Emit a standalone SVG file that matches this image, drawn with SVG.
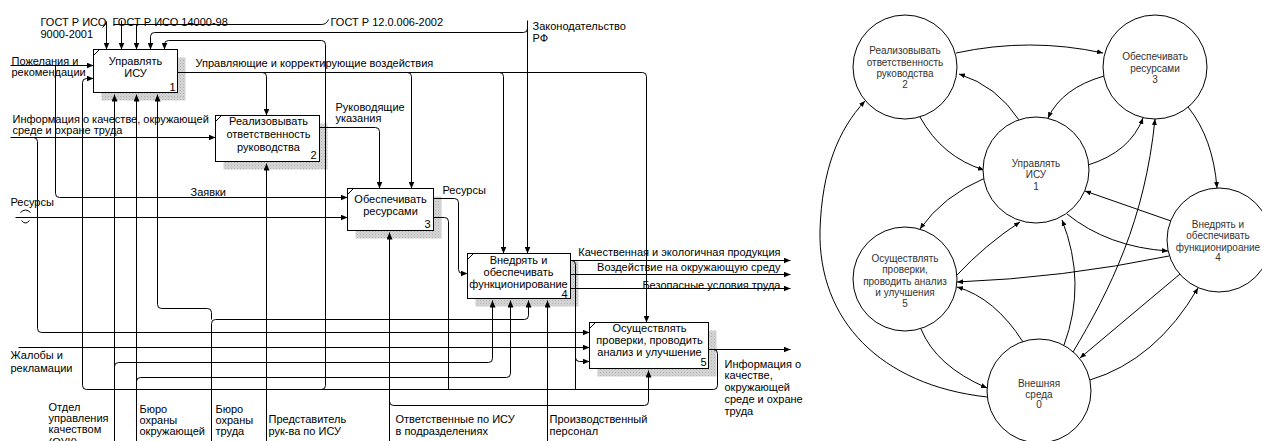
<svg xmlns="http://www.w3.org/2000/svg" width="1262" height="441" viewBox="0 0 1262 441">
<style>
.c{fill:none;stroke:#000;stroke-width:1}
.a{marker-end:url(#ah)}
.box{fill:#fff;stroke:#000;stroke-width:1}
.sh{fill:url(#hatch)}
.t{font-family:"Liberation Sans",Arial,sans-serif;font-size:11px;fill:#000}
.m{text-anchor:middle}
.e{text-anchor:end}
.n{fill:#fff;stroke:#000;stroke-width:1}
.r{fill:none;stroke:#000;stroke-width:1;marker-end:url(#rh)}
.rt{font-family:"Liberation Sans",Arial,sans-serif;font-size:10px;fill:#333;text-anchor:middle}
</style>
<defs>
<pattern id="hatch" width="3" height="3" patternUnits="userSpaceOnUse"><rect width="3" height="3" fill="#fff"/><path d="M0,3 L3,0 M0,0 L3,3" stroke="#8a8a8a" stroke-width="0.7"/></pattern>
<marker id="ah" markerUnits="userSpaceOnUse" markerWidth="7" markerHeight="6" refX="7" refY="3" orient="auto"><path d="M0,0 L7,3 L0,6 z" fill="#000"/></marker>
<marker id="rh" markerUnits="userSpaceOnUse" markerWidth="6" markerHeight="5" refX="6" refY="2.5" orient="auto"><path d="M0,0 L6,2.5 L0,5 z" fill="#000"/></marker>
</defs>
<rect width="1262" height="441" fill="#fff"/>
<g transform="translate(0.5,0.5)">
<g id="box1"><rect class="sh" x="101" y="57" width="84" height="43"/><rect class="box" x="93" y="49" width="84" height="43"/><path class="c" d="M93,55 L99,49"/>
<text class="t m" x="135" y="64">Управлять</text><text class="t m" x="135" y="76">ИСУ</text><text class="t e" x="175" y="90">1</text></g>
<g id="box2"><rect class="sh" x="223" y="123" width="104" height="46"/><rect class="box" x="215" y="115" width="104" height="46"/><path class="c" d="M215,121 L221,115"/>
<text class="t m" x="268" y="124">Реализовывать</text><text class="t m" x="268" y="137">ответственность</text><text class="t m" x="268" y="150">руководства</text><text class="t e" x="316" y="158">2</text></g>
<g id="box3"><rect class="sh" x="355" y="196" width="86" height="42"/><rect class="box" x="347" y="188" width="86" height="42"/><path class="c" d="M347,194 L353,188"/>
<text class="t m" x="390" y="202">Обеспечивать</text><text class="t m" x="390" y="214">ресурсами</text><text class="t e" x="430" y="227">3</text></g>
<g id="box4"><rect class="sh" x="475" y="261" width="103" height="45"/><rect class="box" x="467" y="253" width="103" height="45"/><path class="c" d="M467,259 L473,253"/>
<text class="t m" x="518" y="263">Внедрять и</text><text class="t m" x="518" y="275">обеспечивать</text><text class="t m" x="518" y="287">функционирование</text><text class="t e" x="567" y="297">4</text></g>
<g id="box5"><rect class="sh" x="597" y="330" width="119" height="46"/><rect class="box" x="589" y="322" width="119" height="46"/><path class="c" d="M589,328 L595,322"/>
<text class="t m" x="649" y="331">Осуществлять</text><text class="t m" x="649" y="343">проверки, проводить</text><text class="t m" x="649" y="355">анализ и улучшение</text><text class="t e" x="706" y="365">5</text></g>
<g id="connectors">
<path class="c a" d="M10,65 H93"/>
<path class="c a" d="M55,65 V193 Q55,197 59,197 H347"/>
<path class="c a" d="M10,137 H215"/>
<path class="c a" d="M33,137 Q37,137 37,141 V328 Q37,332 41,332 H589"/>
<path class="c a" d="M15,217 H347"/>
<path class="c" d="M20,212 Q25,207 30,212 M21,220 Q25,225 29,220"/>
<path class="c a" d="M18,347 H589"/>
<path class="c a" d="M106,21 V49"/>
<path class="c" d="M102,27 Q105,25 106,21"/>
<path class="c a" d="M121,20 V49"/>
<path class="c" d="M328,19 Q326,24 321,24 H113"/>
<path class="c a" d="M136,24 V49"/>
<path class="c a" d="M527,20 V253"/>
<path class="c a" d="M527,28 Q527,32 523,32 H154 Q150,32 150,36 V49"/>
<path class="c a" d="M708,349 H790"/>
<path class="c a" d="M713,349 Q717,349 717,353 V385 Q717,389 713,389 H86 Q82,389 82,385 V82 Q82,78 86,78 H93"/>
<path class="c a" d="M321,389 Q325,389 325,385 V44 Q325,40 321,40 H168 Q164,40 164,44 V49"/>
<path class="c" d="M433,217 H444 Q448,217 448,221 V389"/>
<path class="c" d="M571,260 Q575,260 575,264 V389"/>
<path class="c a" d="M575,357 Q575,361 579,361 H589"/>
<path class="c a" d="M177,72 H642 Q646,72 646,76 V322"/>
<path class="c a" d="M262,72 Q266,72 266,76 V115"/>
<path class="c a" d="M407,72 Q411,72 411,76 V188"/>
<path class="c a" d="M499,72 Q503,72 503,76 V253"/>
<path class="c a" d="M319,127 H375 Q379,127 379,131 V188"/>
<path class="c a" d="M433,198 H454 Q458,198 458,202 V269 Q458,273 462,273 H467"/>
<path class="c a" d="M570,260 H790"/>
<path class="c a" d="M570,274 H790"/>
<path class="c a" d="M570,288 H790"/>
<path class="c a" d="M114,441 V94"/>
<path class="c a" d="M114,366 Q114,362 118,362 H488 Q492,362 492,358 V300"/>
<path class="c a" d="M136,441 V94"/>
<path class="c a" d="M136,381 Q136,377 140,377 H506 Q510,377 510,373 V300"/>
<path class="c a" d="M211,441 V323 Q211,319 215,319 H524 Q528,319 528,315 V300"/>
<path class="c a" d="M211,319 V312 Q211,308 207,308 H161 Q157,308 157,304 V94"/>
<path class="c a" d="M266,441 V163"/>
<path class="c a" d="M389,441 V232"/>
<path class="c a" d="M389,401 Q389,405 393,405 H644 Q648,405 648,401 V370"/>
<path class="c a" d="M547,441 V300"/>
</g>
<g id="labels">
<text class="t" x="40" y="25">ГОСТ Р ИСО</text><text class="t" x="40" y="37">9000-2001</text>
<text class="t" x="112" y="25">ГОСТ Р ИСО 14000-98</text>
<text class="t" x="330" y="25">ГОСТ Р 12.0.006-2002</text>
<text class="t" x="532" y="29">Законодательство</text><text class="t" x="532" y="41">РФ</text>
<text class="t" x="11" y="64">Пожелания и</text><text class="t" x="11" y="75">рекомендации</text>
<text class="t" x="195" y="66">Управляющие и корректирующие воздействия</text>
<text class="t" x="12" y="122">Информация о качестве, окружающей</text><text class="t" x="12" y="133">среде и охране труда</text>
<text class="t" x="335" y="110">Руководящие</text><text class="t" x="335" y="121">указания</text>
<text class="t" x="190" y="195">Заявки</text>
<text class="t" x="10" y="205">Ресурсы</text>
<text class="t" x="442" y="193">Ресурсы</text>
<text class="t e" x="780" y="255">Качественная и экологичная продукция</text>
<text class="t e" x="780" y="270">Воздействие на окружающую среду</text>
<text class="t e" x="780" y="288">Безопасные условия труда</text>
<text class="t" x="724" y="367">Информация о</text><text class="t" x="724" y="378">качестве,</text><text class="t" x="724" y="390">окружающей</text><text class="t" x="724" y="402">среде и охране</text><text class="t" x="724" y="414">труда</text>
<text class="t" x="10" y="358">Жалобы и</text><text class="t" x="10" y="371">рекламации</text>
<text class="t" x="48" y="410">Отдел</text><text class="t" x="48" y="421">управления</text><text class="t" x="48" y="432">качеством</text><text class="t" x="48" y="445">(ОУК)</text>
<text class="t" x="139" y="412">Бюро</text><text class="t" x="139" y="423">охраны</text><text class="t" x="139" y="434">окружающей</text>
<text class="t" x="215" y="412">Бюро</text><text class="t" x="215" y="423">охраны</text><text class="t" x="215" y="434">труда</text>
<text class="t" x="268" y="422">Представитель</text><text class="t" x="268" y="434">рук-ва по ИСУ</text>
<text class="t" x="395" y="422">Ответственные по ИСУ</text><text class="t" x="395" y="434">в подразделениях</text>
<text class="t" x="549" y="422">Производственный</text><text class="t" x="549" y="434">персонал</text>
</g>
</g>
<g id="graph">
<g id="edges">
<path class="r" d="M956,53 Q1030,37 1103,53"/>
<path class="r" d="M1019,120 Q997,86 959,74"/>
<path class="r" d="M920,117 Q942,157 984,170"/>
<path class="r" d="M1104,76 Q1062,88 1048,118"/>
<path class="r" d="M1088,165 Q1130,152 1143,118"/>
<path class="r" d="M1188,107 Q1213,138 1217,188"/>
<path class="r" d="M1171,221 L1085,191"/>
<path class="r" d="M985,178 Q943,196 920,229"/>
<path class="r" d="M957,275 Q985,245 1020,222"/>
<path class="r" d="M1169,256 Q1062,278 957,282"/>
<path class="r" d="M1023,342 Q995,298 957,287"/>
<path class="r" d="M921,329 Q936,366 987,388"/>
<path class="r" d="M987,397 C880,385 818,320 820,230 C822,170 838,130 865,101"/>
<path class="r" d="M1064,345 Q1087,283 1062,220"/>
<path class="r" d="M1073,352 C1110,290 1145,220 1155,119"/>
<path class="r" d="M1180,274 L1080,358"/>
<path class="r" d="M1090,380 Q1156,360 1198,288"/>
<path class="r" d="M1067,214 Q1108,247 1168,251"/>
</g>
<g id="n2"><circle class="n" cx="905" cy="67" r="52"/><text class="rt" x="905" y="53.5">Реализовывать</text><text class="rt" x="905" y="65.5">ответственность</text><text class="rt" x="905" y="76.5">руководства</text><text class="rt" x="905" y="87.5">2</text></g>
<g id="n3"><circle class="n" cx="1155" cy="67" r="52"/><text class="rt" x="1155" y="60">Обеспечивать</text><text class="rt" x="1155" y="71.5">ресурсами</text><text class="rt" x="1155" y="83">3</text></g>
<g id="n1"><circle class="n" cx="1036" cy="170" r="53"/><text class="rt" x="1036" y="166.5">Управлять</text><text class="rt" x="1036" y="178">ИСУ</text><text class="rt" x="1036" y="189.5">1</text></g>
<g id="n4"><circle class="n" cx="1219" cy="240" r="52"/><text class="rt" x="1218" y="227.5">Внедрять и</text><text class="rt" x="1218" y="239">обеспечивать</text><text class="rt" x="1218" y="250.5">функционироание</text><text class="rt" x="1218" y="261">4</text></g>
<g id="n5"><circle class="n" cx="905" cy="279" r="52"/><text class="rt" x="905" y="261.5">Осуществлять</text><text class="rt" x="905" y="273">проверки,</text><text class="rt" x="905" y="284.5">проводить анализ</text><text class="rt" x="905" y="296">и улучшения</text><text class="rt" x="905" y="307">5</text></g>
<g id="n0"><circle class="n" cx="1039" cy="391" r="52"/><text class="rt" x="1039" y="386.5">Внешняя</text><text class="rt" x="1039" y="397.5">среда</text><text class="rt" x="1039" y="408">0</text></g>
</g>
</svg>
